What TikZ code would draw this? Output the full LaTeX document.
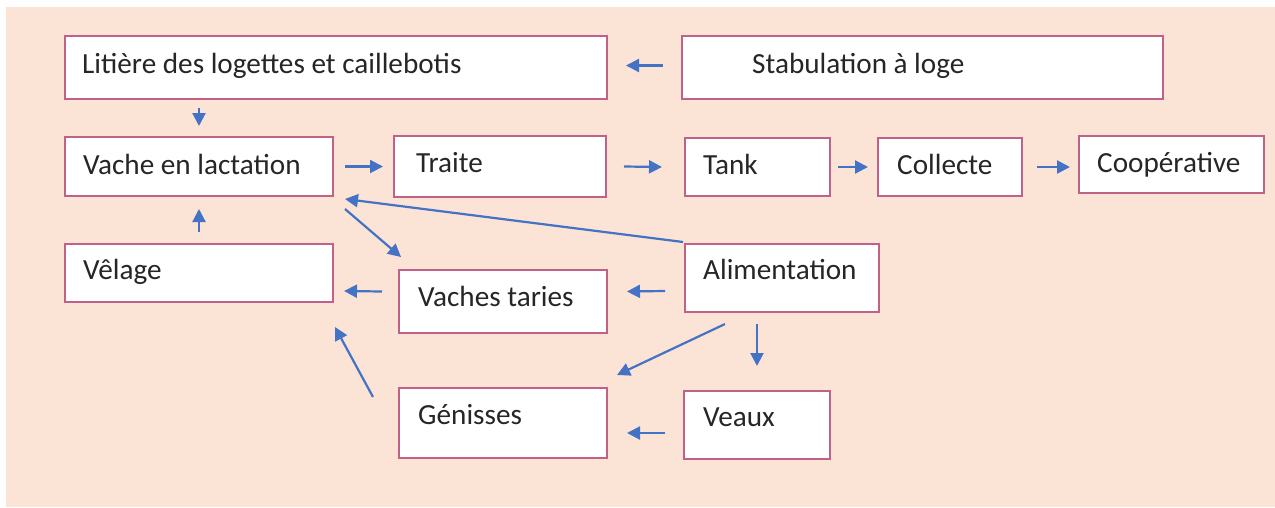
\documentclass[tikz,border=0pt]{standalone}
\usepackage{fontspec}
\setmainfont{Carlito}
\usetikzlibrary{arrows.meta,calc}
\definecolor{peach}{RGB}{251,228,214}
\definecolor{boxc}{RGB}{192,98,135}
\definecolor{txtc}{RGB}{38,38,38}
\definecolor{arrc}{RGB}{68,114,196}
\tikzset{
  box/.style={draw=boxc, line width=2pt, fill=white, inner sep=0pt, anchor=north west},
  lbl/.style={anchor=base west, inner sep=0pt, text=txtc, font=\fontsize{29.2}{35}\selectfont},
  arr/.style={draw=arrc, line width=2.2pt, -{Triangle[length=13pt,width=13pt]}},
}
\begin{document}
\begin{tikzpicture}[x=1pt,y=-1pt]
\useasboundingbox (0,0) rectangle (1275,507);
\fill[peach] (6,7) rectangle (1275,507);

% boxes
\node[box, minimum width=542pt, minimum height=63pt] (lit)    at (64,35)   {};
\node[box, minimum width=481pt, minimum height=63pt] (stab)   at (681,35)  {};
\node[box, minimum width=268pt, minimum height=59pt] (vache)  at (64,136)  {};
\node[box, minimum width=212pt, minimum height=61pt] (traite) at (393,135) {};
\node[box, minimum width=145pt, minimum height=58pt] (tank)   at (684,137) {};
\node[box, minimum width=144pt, minimum height=58pt] (coll)   at (877,137) {};
\node[box, minimum width=185pt, minimum height=57pt] (coop)   at (1078,135){};
\node[box, minimum width=268pt, minimum height=58pt] (velage) at (64,243)  {};
\node[box, minimum width=208pt, minimum height=63pt] (taries) at (398,269) {};
\node[box, minimum width=194pt, minimum height=68pt] (alim)   at (684,243) {};
\node[box, minimum width=208pt, minimum height=70pt] (gen)    at (398,387) {};
\node[box, minimum width=146pt, minimum height=68pt] (veaux)  at (683,390) {};

% texts
\node[lbl] (litT)    at (82,73)   {Litière des logettes et caillebotis};
\node[lbl] (stabT)   at (752,73)  {Stabulation à loge};
\node[lbl] (vacheT)  at (83,174)  {Vache en lactation};
\node[lbl] (traiteT) at (416,172) {Traite};
\node[lbl] (tankT)   at (703,174) {Tank};
\node[lbl] (collT)   at (897,174) {Collecte};
\node[lbl] (coopT)   at (1097,172){Coopérative};
\node[lbl] (velageT) at (83,279)  {Vêlage};
\node[lbl] (tariesT) at (418,306) {Vaches taries};
\node[lbl] (alimT)   at (703,279) {Alimentation};
\node[lbl] (genT)    at (418,424) {Génisses};
\node[lbl] (veauxT)  at (703,426) {Veaux};

% connectors
\draw[arr] ($(stab.west)+(-18,-2)$) -- ($(lit.east)+(18,-2)$);
\draw[arr] ($(lit.south -| vache.north)+(0,8)$) -- ($(vache.north)+(0,-10)$);
\draw[arr] ($(velage.north)+(0,-11)$) -- ($(vache.south)+(0,12)$);
\draw[arr] ($(vache.east)+(11,0)$) -- ($(traite.west)+(-10,0)$);
\draw[arr] ($(traite.east)+(17,0)$) -- ($(tank.west)+(-22,0)$);
\draw[arr] ($(tank.east)+(7,0)$) -- ($(coll.west)+(-9,0)$);
\draw[arr] ($(coll.east)+(14,0)$) -- ($(coll.east -| coop.west)+(-8,0)$);
\draw[arr] ($(vache.south east)+(11,12)$) -- ($(taries.north west)+(3,-12)$);
\draw[arr] ($(alim.north west)+(-1,-1)$) -- ($(vache.south east)+(11,2)$);
\draw[arr] ($(taries.west)+(-16,-10)$) -- ($(velage.east)+(10,18)$);
\draw[arr] ($(alim.west)+(-19,13)$) -- ($(taries.east)+(19,-10)$);
\draw[arr] ($(alim.south west)+(41,11)$) -- ($(gen.north east)+(9,-12)$);
\draw[arr] ($(alim.south -| veaux.north)+(0,11)$) -- ($(veaux.north)+(0,-24)$);
\draw[arr] ($(veaux.west)+(-18,8)$) -- ($(gen.east)+(19,10)$);
\draw[arr] ($(gen.north west)+(-25,10)$) -- ($(velage.south east)+(1,24)$);
\end{tikzpicture}
\end{document}
